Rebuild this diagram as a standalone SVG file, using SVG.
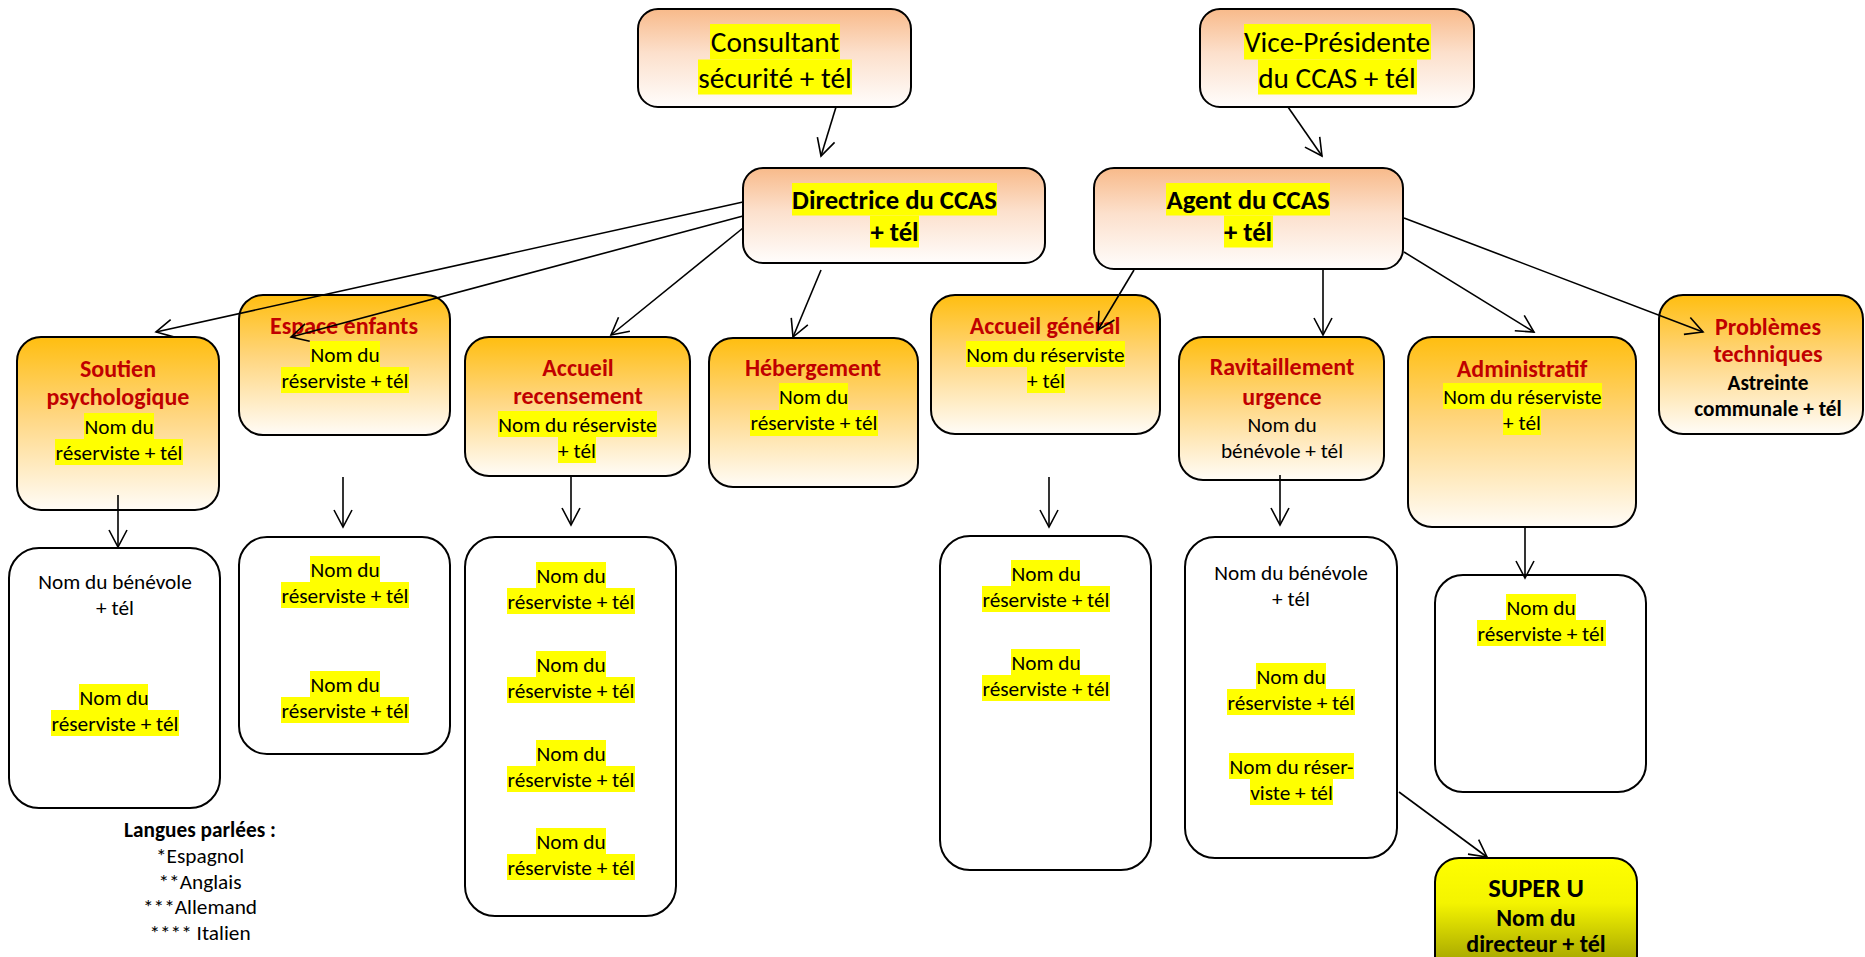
<svg xmlns="http://www.w3.org/2000/svg" width="1865" height="957" viewBox="0 0 1865 957">
<defs>
<linearGradient id="gTop" x1="0" y1="0" x2="0" y2="1">
<stop offset="0" stop-color="#F8BA8A"/><stop offset="0.45" stop-color="#FCE0CC"/><stop offset="1" stop-color="#FFFDFC"/>
</linearGradient>
<linearGradient id="gOr" x1="0" y1="0" x2="0" y2="1">
<stop offset="0" stop-color="#FFBE10"/><stop offset="0.45" stop-color="#FFD680"/><stop offset="1" stop-color="#FFFCF7"/>
</linearGradient>
<linearGradient id="gU" x1="0" y1="0" x2="0" y2="1">
<stop offset="0" stop-color="#FFFF00"/><stop offset="0.3" stop-color="#F4F400"/><stop offset="1" stop-color="#6A6A00"/>
</linearGradient>
<marker id="ah" markerWidth="24" markerHeight="24" refX="20" refY="12" orient="auto" markerUnits="userSpaceOnUse" viewBox="0 0 24 24">
<path d="M3,3 L20,12 L3,21" fill="none" stroke="#000" stroke-width="1.6"/>
</marker>
<style>
.bt{fill:url(#gTop);stroke:#000;stroke-width:2}
.bo{fill:url(#gOr);stroke:#000;stroke-width:2}
.bw{fill:#fff;stroke:#000;stroke-width:2}
.bu{fill:url(#gU);stroke:#000;stroke-width:2}
.hl{fill:#FFFF00}
text{font-family:Carlito,Lato,"Liberation Sans",sans-serif;text-anchor:middle;fill:#000}
.top{font-size:29.3px}
.topb{font-size:26.7px;font-weight:bold}
.ttl{font-size:24px;font-weight:bold;fill:#C00000}
.bd{font-size:21.3px}
.bdb{font-size:21.3px;font-weight:bold}
.ub{font-size:26.7px;font-weight:bold}
.ub2{font-size:24px;font-weight:bold}
.conn line{stroke:#000;stroke-width:1.6;marker-end:url(#ah)}
</style>
</defs>
<rect width="1865" height="957" fill="#fff"/>

<g id="n-consultant">
<rect class="bt" x="638" y="9" width="273" height="98" rx="20"/>
<rect class="hl" x="710" y="24" width="130" height="35.5"/>
<rect class="hl" x="698" y="59.5" width="154" height="35"/>
<text class="top" x="775" y="52">Consultant</text>
<text class="top" x="775" y="87.5">sécurité + tél</text>
</g>

<g id="n-vp">
<rect class="bt" x="1200" y="9" width="274" height="98" rx="20"/>
<rect class="hl" x="1244" y="24" width="187" height="35.5"/>
<rect class="hl" x="1258" y="59.5" width="159" height="35"/>
<text class="top" x="1337" y="52">Vice-Présidente</text>
<text class="top" x="1337" y="87.5">du CCAS + tél</text>
</g>

<g id="n-directrice">
<rect class="bt" x="743" y="168" width="302" height="95" rx="20"/>
<rect class="hl" x="792" y="183" width="205" height="32.5"/>
<rect class="hl" x="870" y="215.5" width="49" height="32"/>
<text class="topb" x="894.5" y="208.5">Directrice du CCAS</text>
<text class="topb" x="894.5" y="241">+ tél</text>
</g>

<g id="n-agent">
<rect class="bt" x="1094" y="168" width="309" height="101" rx="20"/>
<rect class="hl" x="1166" y="183" width="164" height="32.5"/>
<rect class="hl" x="1224" y="215.5" width="49" height="32"/>
<text class="topb" x="1248" y="208.5">Agent du CCAS</text>
<text class="topb" x="1248" y="241">+ tél</text>
</g>

<g id="n-soutien">
<rect class="bo" x="17" y="337" width="202" height="173" rx="24"/>
<rect class="hl" x="84" y="413" width="70" height="26"/>
<rect class="hl" x="55" y="439" width="128" height="26"/>
<text class="ttl" x="118" y="377">Soutien</text>
<text class="ttl" x="118" y="405">psychologique</text>
<text class="bd" x="119" y="434">Nom du</text>
<text class="bd" x="119" y="460">réserviste + tél</text>
</g>

<g id="n-espace">
<rect class="bo" x="239" y="295" width="211" height="140" rx="24"/>
<rect class="hl" x="310" y="341" width="70" height="26"/>
<rect class="hl" x="281" y="367" width="128" height="26"/>
<text class="ttl" x="344" y="334">Espace enfants</text>
<text class="bd" x="345" y="362">Nom du</text>
<text class="bd" x="345" y="388">réserviste + tél</text>
</g>

<g id="n-accueil-recensement">
<rect class="bo" x="465" y="337" width="225" height="139" rx="24"/>
<rect class="hl" x="498" y="411" width="159" height="26"/>
<rect class="hl" x="558" y="437" width="38" height="26"/>
<text class="ttl" x="578" y="376">Accueil</text>
<text class="ttl" x="578" y="404">recensement</text>
<text class="bd" x="577.5" y="432">Nom du réserviste</text>
<text class="bd" x="577" y="458">+ tél</text>
</g>

<g id="n-hebergement">
<rect class="bo" x="709" y="338" width="209" height="149" rx="24"/>
<rect class="hl" x="779" y="383" width="69" height="27"/>
<rect class="hl" x="750" y="410" width="128" height="26"/>
<text class="ttl" x="813" y="376">Hébergement</text>
<text class="bd" x="813.5" y="404">Nom du</text>
<text class="bd" x="814" y="430">réserviste + tél</text>
</g>

<g id="n-accueil-general">
<rect class="bo" x="931" y="295" width="229" height="139" rx="24"/>
<rect class="hl" x="966" y="341" width="159" height="26"/>
<rect class="hl" x="1027" y="367" width="38" height="26"/>
<text class="ttl" x="1045" y="334">Accueil général</text>
<text class="bd" x="1045.5" y="362">Nom du réserviste</text>
<text class="bd" x="1046" y="388">+ tél</text>
</g>

<g id="n-ravitaillement">
<rect class="bo" x="1179" y="337" width="205" height="143" rx="24"/>
<text class="ttl" x="1282" y="375">Ravitaillement</text>
<text class="ttl" x="1282" y="405">urgence</text>
<text class="bd" x="1282" y="432">Nom du</text>
<text class="bd" x="1282" y="458">bénévole + tél</text>
</g>

<g id="n-administratif">
<rect class="bo" x="1408" y="337" width="228" height="190" rx="24"/>
<rect class="hl" x="1443" y="383" width="159" height="26"/>
<rect class="hl" x="1503" y="409" width="38" height="26"/>
<text class="ttl" x="1522" y="377">Administratif</text>
<text class="bd" x="1522.5" y="404">Nom du réserviste</text>
<text class="bd" x="1522" y="430">+ tél</text>
</g>

<g id="n-problemes">
<rect class="bo" x="1659" y="295" width="204" height="139" rx="24"/>
<text class="ttl" x="1768" y="335">Problèmes</text>
<text class="ttl" x="1768" y="362">techniques</text>
<text class="bdb" x="1768" y="390">Astreinte</text>
<text class="bdb" x="1768" y="416">communale + tél</text>
</g>

<g id="n-soutien-liste">
<rect class="bw" x="9" y="548" width="211" height="260" rx="30"/>
<rect class="hl" x="79" y="684" width="69" height="26"/>
<rect class="hl" x="51" y="710" width="128" height="26"/>
<text class="bd" x="115" y="589">Nom du bénévole</text>
<text class="bd" x="115" y="615">+ tél</text>
<text class="bd" x="114" y="705">Nom du</text>
<text class="bd" x="115" y="731">réserviste + tél</text>
</g>

<g id="n-espace-liste">
<rect class="bw" x="239" y="537" width="211" height="217" rx="28"/>
<rect class="hl" x="310" y="556" width="70" height="26"/>
<rect class="hl" x="281" y="582" width="128" height="26"/>
<rect class="hl" x="310" y="671" width="70" height="26"/>
<rect class="hl" x="281" y="697" width="128" height="26"/>
<text class="bd" x="345" y="577">Nom du</text>
<text class="bd" x="345" y="603">réserviste + tél</text>
<text class="bd" x="345" y="692">Nom du</text>
<text class="bd" x="345" y="718">réserviste + tél</text>
</g>

<g id="n-recensement-liste">
<rect class="bw" x="465" y="537" width="211" height="379" rx="30"/>
<rect class="hl" x="536" y="562" width="70" height="26"/>
<rect class="hl" x="507" y="588" width="128" height="26"/>
<rect class="hl" x="536" y="651" width="70" height="26"/>
<rect class="hl" x="507" y="677" width="128" height="26"/>
<rect class="hl" x="536" y="740" width="70" height="26"/>
<rect class="hl" x="507" y="766" width="128" height="26"/>
<rect class="hl" x="536" y="828" width="70" height="26"/>
<rect class="hl" x="507" y="854" width="128" height="26"/>
<text class="bd" x="571" y="583">Nom du</text>
<text class="bd" x="571" y="609">réserviste + tél</text>
<text class="bd" x="571" y="672">Nom du</text>
<text class="bd" x="571" y="698">réserviste + tél</text>
<text class="bd" x="571" y="761">Nom du</text>
<text class="bd" x="571" y="787">réserviste + tél</text>
<text class="bd" x="571" y="849">Nom du</text>
<text class="bd" x="571" y="875">réserviste + tél</text>
</g>

<g id="n-accueil-liste">
<rect class="bw" x="940" y="536" width="211" height="334" rx="30"/>
<rect class="hl" x="1011" y="560" width="69" height="26"/>
<rect class="hl" x="982" y="586" width="128" height="26"/>
<rect class="hl" x="1011" y="649" width="69" height="26"/>
<rect class="hl" x="982" y="675" width="128" height="26"/>
<text class="bd" x="1046" y="581">Nom du</text>
<text class="bd" x="1046" y="607">réserviste + tél</text>
<text class="bd" x="1046" y="670">Nom du</text>
<text class="bd" x="1046" y="696">réserviste + tél</text>
</g>

<g id="n-ravitaillement-liste">
<rect class="bw" x="1185" y="537" width="212" height="321" rx="30"/>
<rect class="hl" x="1256" y="663" width="70" height="26"/>
<rect class="hl" x="1227" y="689" width="128" height="26"/>
<rect class="hl" x="1229" y="753" width="125" height="26"/>
<rect class="hl" x="1250" y="779" width="83" height="26"/>
<text class="bd" x="1291" y="580">Nom du bénévole</text>
<text class="bd" x="1291" y="606">+ tél</text>
<text class="bd" x="1291" y="684">Nom du</text>
<text class="bd" x="1291" y="710">réserviste + tél</text>
<text class="bd" x="1291.5" y="774">Nom du réser-</text>
<text class="bd" x="1291.5" y="800">viste + tél</text>
</g>

<g id="n-administratif-liste">
<rect class="bw" x="1435" y="575" width="211" height="217" rx="28"/>
<rect class="hl" x="1506" y="594" width="70" height="26"/>
<rect class="hl" x="1477" y="620" width="129" height="26"/>
<text class="bd" x="1541" y="615">Nom du</text>
<text class="bd" x="1541" y="641">réserviste + tél</text>
</g>

<g id="n-superu">
<rect class="bu" x="1435" y="858" width="202" height="150" rx="24"/>
<text class="ub" x="1536" y="897">SUPER U</text>
<text class="ub2" x="1536" y="926">Nom du</text>
<text class="ub2" x="1536" y="952">directeur + tél</text>
</g>

<g id="legende">
<text class="bdb" x="200" y="837">Langues parlées :</text>
<text class="bd" x="200" y="863">*Espagnol</text>
<text class="bd" x="200" y="889">**Anglais</text>
<text class="bd" x="200" y="914">***Allemand</text>
<text class="bd" x="200" y="940">**** Italien</text>
</g>

<g id="connecteurs" class="conn">
<line x1="836" y1="107" x2="821" y2="156"/>
<line x1="1288" y1="107" x2="1322" y2="156"/>
<line x1="743" y1="202" x2="156" y2="332"/>
<line x1="743" y1="216" x2="291" y2="337"/>
<line x1="743" y1="228" x2="611" y2="335"/>
<line x1="821" y1="270" x2="793" y2="337"/>
<line x1="1134" y1="270" x2="1098" y2="330"/>
<line x1="1323" y1="270" x2="1323" y2="335"/>
<line x1="1404" y1="252" x2="1534" y2="332"/>
<line x1="1404" y1="218" x2="1703" y2="332"/>
<line x1="118" y1="495" x2="118" y2="547"/>
<line x1="343" y1="477" x2="343" y2="527"/>
<line x1="571" y1="477" x2="571" y2="525"/>
<line x1="1049" y1="477" x2="1049" y2="527"/>
<line x1="1280" y1="475" x2="1280" y2="525"/>
<line x1="1525" y1="527" x2="1525" y2="578"/>
<line x1="1399" y1="792" x2="1487" y2="857"/>
</g>
</svg>
